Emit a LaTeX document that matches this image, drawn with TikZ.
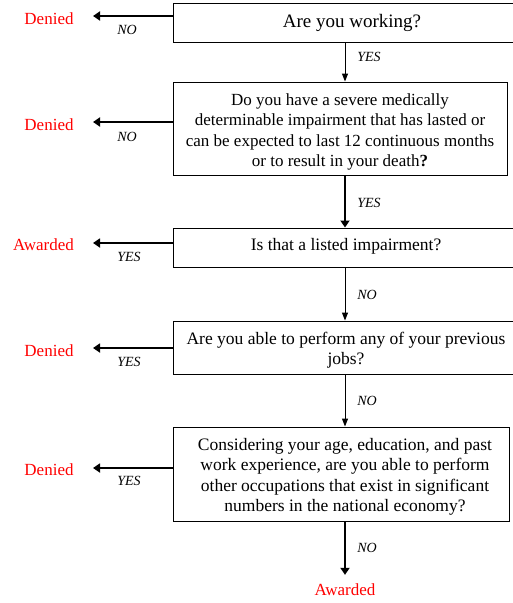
\documentclass[tikz,border=0pt]{standalone}
\usepackage{fontspec}
\setmainfont{Liberation Serif}
\usetikzlibrary{arrows.meta}
\begin{document}
\begin{tikzpicture}[x=1pt,y=-1pt,
  box/.style={draw, line width=1pt, rectangle, inner sep=0pt},
  q/.style={font=\fontsize{17.5}{20.5}\selectfont, align=center, inner sep=0pt},
  res/.style={text=red, font=\fontsize{17}{20}\selectfont, inner sep=0pt},
  lab/.style={font=\fontsize{14}{16}\selectfont\itshape, inner sep=0pt},
  thinarrow/.style={-{Triangle[length=8pt,width=6pt]}, line width=1pt},
  thickarrow/.style={-{Triangle[length=7pt,width=9pt]}, line width=1.8pt}]
\useasboundingbox (0,0) rectangle (513,603);
% boxes
\node[box, minimum width=344, minimum height=39] (b1) at (345,22.5) {};
\node[box, minimum width=334, minimum height=93] (b2) at (340,128.5) {};
\node[box, minimum width=344, minimum height=39] (b3) at (345,247.5) {};
\node[box, minimum width=344, minimum height=53] (b4) at (345,347.5) {};
\node[box, minimum width=336, minimum height=94] (b5) at (341,474) {};
% texts
\node[q, font=\fontsize{19}{22}\selectfont] (t1) at (352,23) {Are you working?};
\node[q, font=\fontsize{17}{20.5}\selectfont] (t2) at (340,132) {Do you have a severe medically\\determinable impairment that has lasted or\\can be expected to last 12 continuous months\\or to result in your death\textbf{?}};
\node[q] (t3) at (346,246.5) {Is that a listed impairment?};
\node[q] (t4) at (346,350) {Are you able to perform any of your previous\\jobs?};
\node[q] (t5) at (345,477) {Considering your age, education, and past\\work experience, are you able to perform\\other occupations that exist in significant\\numbers in the national economy?};
% results
\node[res] (r1) at (49,19) {Denied};
\node[res] (r2) at (49,125) {Denied};
\node[res] (r3) at (43.5,244.5) {Awarded};
\node[res] (r4) at (49,351) {Denied};
\node[res] (r5) at (49,470) {Denied};
\node[res] (r6) at (345,590) {Awarded};
% arrow end points
\coordinate (a1) at (93,16);
\coordinate (a2) at (93,122);
\coordinate (a3) at (93,243);
\coordinate (a4) at (93,348);
\coordinate (a5) at (93,468);
\coordinate (x) at (345,0);
% left arrows
\draw[thickarrow] (a1 -| b1.west) -- (a1);
\draw[thickarrow] (a2 -| b2.west) -- (a2);
\draw[thickarrow] (a3 -| b3.west) -- (a3);
\draw[thickarrow] (a4 -| b4.west) -- (a4);
\draw[thickarrow] (a5 -| b5.west) -- (a5);
% down arrows
\draw[thinarrow] (b1.south -| x) -- (b2.north -| x);
\draw[thickarrow] (b2.south -| x) -- (b3.north -| x);
\draw[thinarrow] (b3.south -| x) -- (b4.north -| x);
\draw[thinarrow] (b4.south -| x) -- (b5.north -| x);
\draw[thickarrow, shorten >=9pt] (b5.south -| x) -- (r6.north);
% labels
\node[lab] (l1) at (127,30) {NO};
\node[lab] (l2) at (127,137) {NO};
\node[lab] (l3) at (129,257) {YES};
\node[lab] (l4) at (129,362) {YES};
\node[lab] (l5) at (129,481) {YES};
\node[lab] (v1) at (369,57) {YES};
\node[lab] (v2) at (369,203) {YES};
\node[lab] (v3) at (367,295) {NO};
\node[lab] (v4) at (367,401) {NO};
\node[lab] (v5) at (367,548) {NO};
\end{tikzpicture}
\end{document}
